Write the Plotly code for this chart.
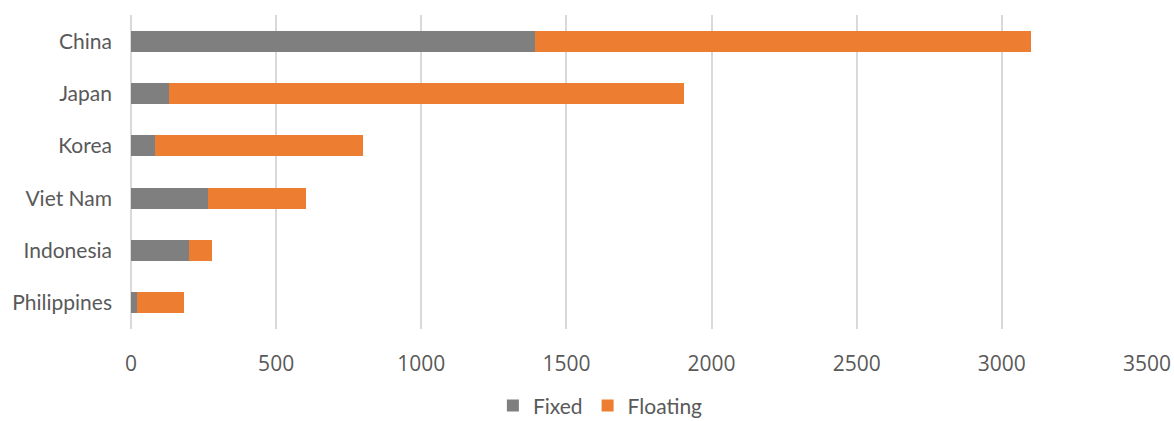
import plotly.graph_objects as go

categories = ["China", "Japan", "Korea", "Viet Nam", "Indonesia", "Philippines"]
fixed = [1390, 131, 83, 265, 200, 21]
floating = [1710, 1775, 715, 337, 79, 161]
x_ticks = [0, 500, 1000, 1500, 2000, 2500, 3000, 3500]

fig = go.Figure()
fig.add_trace(go.Bar(y=categories, x=fixed, name="Fixed", orientation="h",
                     marker=dict(color="#7f7f7f", line=dict(width=0))))
fig.add_trace(go.Bar(y=categories, x=floating, name="Floating", orientation="h",
                     marker=dict(color="#ed7d31", line=dict(width=0))))

fig.update_layout(
    width=1174, height=421,
    barmode="stack", bargap=0.6,
    margin=dict(l=131, r=27, t=15, b=92, autoexpand=False),
    paper_bgcolor="white", plot_bgcolor="white",
    font=dict(family="Lato", size=21, color="#595959"),
    showlegend=True,
    legend=dict(orientation="h", x=0.462, xanchor="center", y=-0.245, yanchor="middle",
                font=dict(size=21, family="Lato", color="#595959"),
                itemwidth=30, traceorder="normal"),
)
fig.update_xaxes(range=[0, 3500], tickvals=x_ticks, showgrid=True, gridcolor="#d9d9d9",
                 gridwidth=2, zeroline=True, zerolinecolor="#d9d9d9", zerolinewidth=2,
                 showline=False, ticks="", ticklabelstandoff=20, automargin=False,
                 tickfont=dict(family="Open Sans", size=21, color="#595959"))
fig.update_yaxes(categoryorder="array", categoryarray=categories, autorange="reversed",
                 showgrid=False, showline=False, ticks="", ticklabelstandoff=18, automargin=False,
                 tickfont=dict(family="Lato", size=21, color="#595959"))

fig.write_html("out.html")
